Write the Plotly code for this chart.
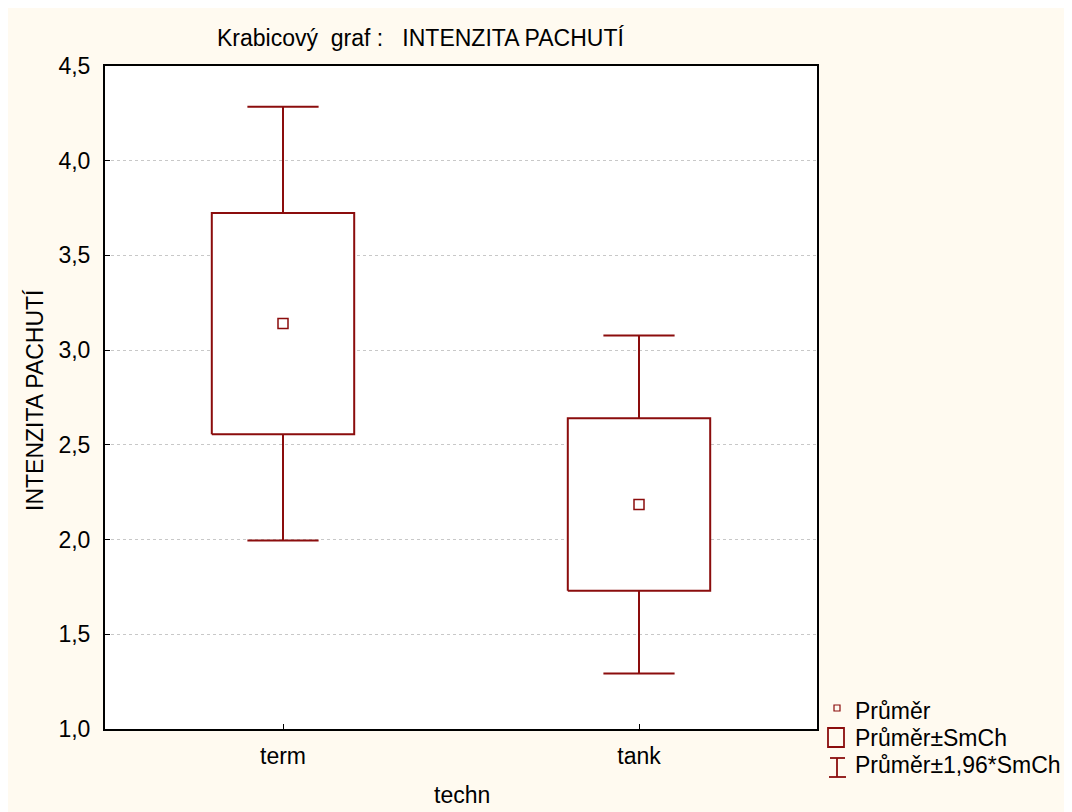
import plotly.graph_objects as go

# ---- data ----
categories = ["term", "tank"]
means = [3.14, 2.185]
se = [0.584, 0.455]          # SmCh (standard error)
z = 1.96
y_ticks = [1.0, 1.5, 2.0, 2.5, 3.0, 3.5, 4.0, 4.5]

title_text = "Krabicový  graf :   INTENZITA PACHUTÍ"
x_title = "techn"
y_title = "INTENZITA PACHUTÍ"
legend_labels = ["Průměr", "Průměr±SmCh", "Průměr±1,96*SmCh"]

RED = "#8b0d0d"
CREAM = "#fffaf0"
FONT = "Liberation Sans, Arial, sans-serif"
FS = 23

W, H = 1064, 804
L, R, T, B = 97, 255, 58, 83
PW, PH = W - L - R, H - T - B

BOX_HW = 0.2
CAP_HW = 0.1

fig = go.Figure()

for i, (m, s) in enumerate(zip(means, se)):
    lo, hi = m - s, m + s
    wlo, whi = m - z * s, m + z * s
    # whiskers + caps
    fig.add_trace(go.Scatter(
        x=[i, i, None, i - CAP_HW, i + CAP_HW, None, i, i, None, i - CAP_HW, i + CAP_HW],
        y=[hi, whi, None, whi, whi, None, lo, wlo, None, wlo, wlo],
        mode="lines", line=dict(color=RED, width=2), showlegend=False, hoverinfo="skip"))
    # box
    fig.add_trace(go.Scatter(
        x=[i - BOX_HW, i + BOX_HW, i + BOX_HW, i - BOX_HW, i - BOX_HW],
        y=[lo, lo, hi, hi, lo],
        mode="lines", fill="toself", fillcolor="white",
        line=dict(color=RED, width=2), showlegend=False, hoverinfo="skip"))

# means
fig.add_trace(go.Scatter(
    x=list(range(len(categories))), y=means, mode="markers",
    marker=dict(symbol="square-open", size=10, color=RED, line=dict(width=1.5, color=RED)),
    showlegend=False))

def px(fx):
    return (fx - L) / PW

def py(fy):
    return (H - B - fy) / PH

annotations = [
    dict(text=title_text, x=px(412), y=py(30), xref="paper", yref="paper",
         xanchor="center", yanchor="middle", showarrow=False,
         font=dict(family=FONT, size=FS, color="black")),
    dict(text=x_title, x=px(454), y=py(787), xref="paper", yref="paper",
         xanchor="center", yanchor="middle", showarrow=False,
         font=dict(family=FONT, size=FS, color="black")),
    dict(text=y_title, x=px(27), y=py(392), xref="paper", yref="paper",
         xanchor="center", yanchor="middle", showarrow=False, textangle=-90,
         font=dict(family=FONT, size=FS, color="black")),
]

leg_y = [703, 730, 757]
for t, yy in zip(legend_labels, leg_y):
    annotations.append(dict(text=t, x=px(845), y=py(yy), xref="paper", yref="paper",
                            xanchor="left", yanchor="middle", showarrow=False,
                            font=dict(family=FONT, size=FS, color="black")))

shapes = [
    # small mean square
    dict(type="rect", xref="paper", yref="paper", x0=px(826), x1=px(832), y0=py(697), y1=py(703),
         line=dict(color=RED, width=1.2), fillcolor="rgba(0,0,0,0)"),
    # box symbol
    dict(type="rect", xref="paper", yref="paper", x0=px(820), x1=px(836), y0=py(720), y1=py(739),
         line=dict(color=RED, width=1.8), fillcolor="rgba(0,0,0,0)"),
    # I-beam symbol
    dict(type="line", xref="paper", yref="paper", x0=px(829), x1=px(829), y0=py(750), y1=py(769),
         line=dict(color=RED, width=1.8)),
    dict(type="line", xref="paper", yref="paper", x0=px(822), x1=px(837), y0=py(750), y1=py(750),
         line=dict(color=RED, width=1.8)),
    dict(type="line", xref="paper", yref="paper", x0=px(821), x1=px(838), y0=py(769), y1=py(769),
         line=dict(color=RED, width=1.8)),
]

fig.update_layout(
    width=W, height=H,
    margin=dict(l=L, r=R, t=T, b=B, pad=0),
    paper_bgcolor=CREAM, plot_bgcolor="white",
    separators=", ",
    showlegend=False,
    annotations=annotations, shapes=shapes,
    font=dict(family=FONT, size=FS, color="black"),
)
fig.update_xaxes(
    range=[-0.5, 1.5], tickvals=list(range(len(categories))), ticktext=categories,
    showgrid=False, zeroline=False, showline=True, linecolor="black", linewidth=2, mirror=True,
    ticks="inside", ticklen=5, tickcolor="black", tickwidth=1,
    ticklabelstandoff=5, tickfont=dict(family=FONT, size=FS, color="black"))
fig.update_yaxes(
    range=[1.0, 4.5], tickvals=y_ticks, tickformat=".1f",
    showgrid=True, gridcolor="#c8c8c8", griddash="dot", gridwidth=1,
    zeroline=False, showline=True, linecolor="black", linewidth=2, mirror=True,
    ticks="inside", ticklen=5, tickcolor="black", tickwidth=1,
    ticklabelstandoff=8, tickfont=dict(family=FONT, size=FS, color="black"))

fig.write_html("out.html", post_script="document.documentElement.style.overflow='hidden';document.body.style.overflow='hidden';")
